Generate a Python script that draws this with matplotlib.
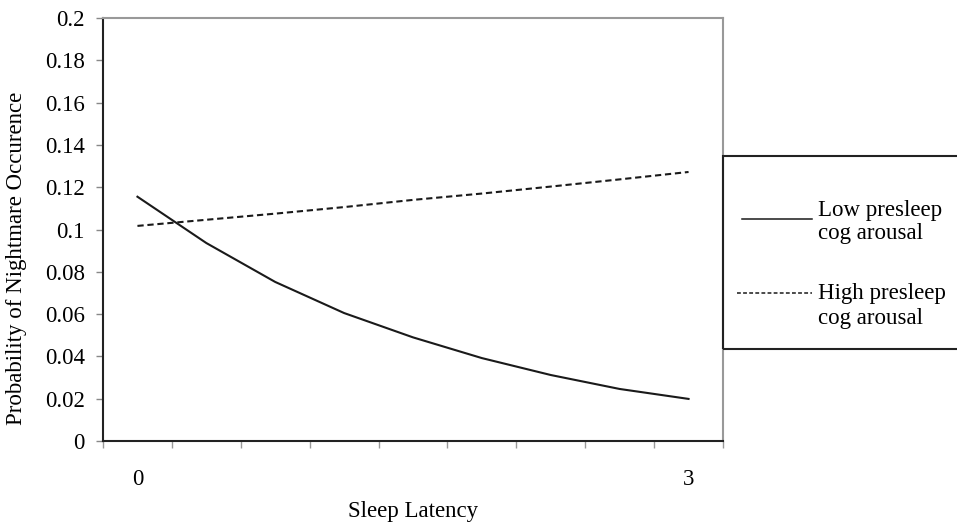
import matplotlib
matplotlib.use("Agg")
import matplotlib.pyplot as plt
from matplotlib.lines import Line2D
from matplotlib.patches import Rectangle

plt.rcParams['font.family'] = ['Liberation Serif', 'DejaVu Serif']

# data (9 points along sleep latency)
positions = [0, 1, 2, 3, 4, 5, 6, 7, 8]
low_arousal = [0.1155, 0.0936, 0.0752, 0.0605, 0.0490, 0.0392, 0.0312, 0.0246, 0.0199]
high_arousal = [0.1017, 0.1046, 0.1075, 0.1106, 0.1140, 0.1170, 0.1203, 0.1237, 0.1272]
x_tick_pos = [0, 8]
x_tick_labels = ['0', '3']
y_ticks = [0, 0.02, 0.04, 0.06, 0.08, 0.1, 0.12, 0.14, 0.16, 0.18, 0.2]
y_tick_labels = ['0', '0.02', '0.04', '0.06', '0.08', '0.1', '0.12', '0.14', '0.16', '0.18', '0.2']

FS = 16.5

fig = plt.figure(figsize=(9.57, 5.26), dpi=100)
ax = fig.add_axes([103/957, 1-441/526, 620/957, 423/526])

ax.plot(positions, low_arousal, color='#1a1a1a', lw=1.5, solid_joinstyle='round')
ax.plot(positions, high_arousal, color='#1a1a1a', lw=1.5, dashes=(3, 1.8))

ax.set_xlim(-0.5, 8.5)
ax.set_ylim(0, 0.2)
ax.set_yticks(y_ticks)
ax.set_yticklabels(y_tick_labels)
ax.set_xticks(x_tick_pos)
ax.set_xticklabels(x_tick_labels)
ax.set_xticks([i - 0.5 for i in range(10)], minor=True)

ax.tick_params(axis='x', which='major', length=0, pad=20, labelsize=FS)
ax.tick_params(axis='x', which='minor', length=5, width=1, color='#999999', direction='out')
ax.tick_params(axis='y', length=5, width=1, color='#888888', pad=8, labelsize=FS)

for side in ['top', 'right']:
    ax.spines[side].set_color('#999999')
    ax.spines[side].set_linewidth(1.5)
for side in ['left', 'bottom']:
    ax.spines[side].set_color('#222222')
    ax.spines[side].set_linewidth(1.5)

ax.set_xlabel('Sleep Latency', fontsize=FS)
ax.xaxis.set_label_coords(0.5, (441 - 512) / 423)
ax.xaxis.label.set_va('center')
ax.set_ylabel('Probability of Nightmare Occurence', fontsize=FS)
ax.yaxis.set_label_coords((17 - 103) / 620, (441 - 258) / 423)
ax.yaxis.label.set_va('center')

# legend box, cut off by the right edge like the reference
W, H = 957, 526
fig.patches.append(Rectangle((723/W, 1-349/H), 300/W, 193/H, transform=fig.transFigure,
                             fill=False, edgecolor='#222222', lw=1.5, clip_on=False))
fig.lines.append(Line2D([742/W, 812/W], [1-219/H, 1-219/H], transform=fig.transFigure,
                        color='#1a1a1a', lw=1.1))
fig.lines.append(Line2D([737/W, 812/W], [1-293/H, 1-293/H], transform=fig.transFigure,
                        color='#1a1a1a', lw=1.1, dashes=(2.5, 1.5)))
fig.text(818/W, 1-216/H, 'Low presleep', fontsize=FS, va='baseline', ha='left')
fig.text(818/W, 1-239/H, 'cog arousal', fontsize=FS, va='baseline', ha='left')
fig.text(818/W, 1-299/H, 'High presleep', fontsize=FS, va='baseline', ha='left')
fig.text(818/W, 1-324/H, 'cog arousal', fontsize=FS, va='baseline', ha='left')

fig.savefig('out.png', dpi=100, facecolor='white')
